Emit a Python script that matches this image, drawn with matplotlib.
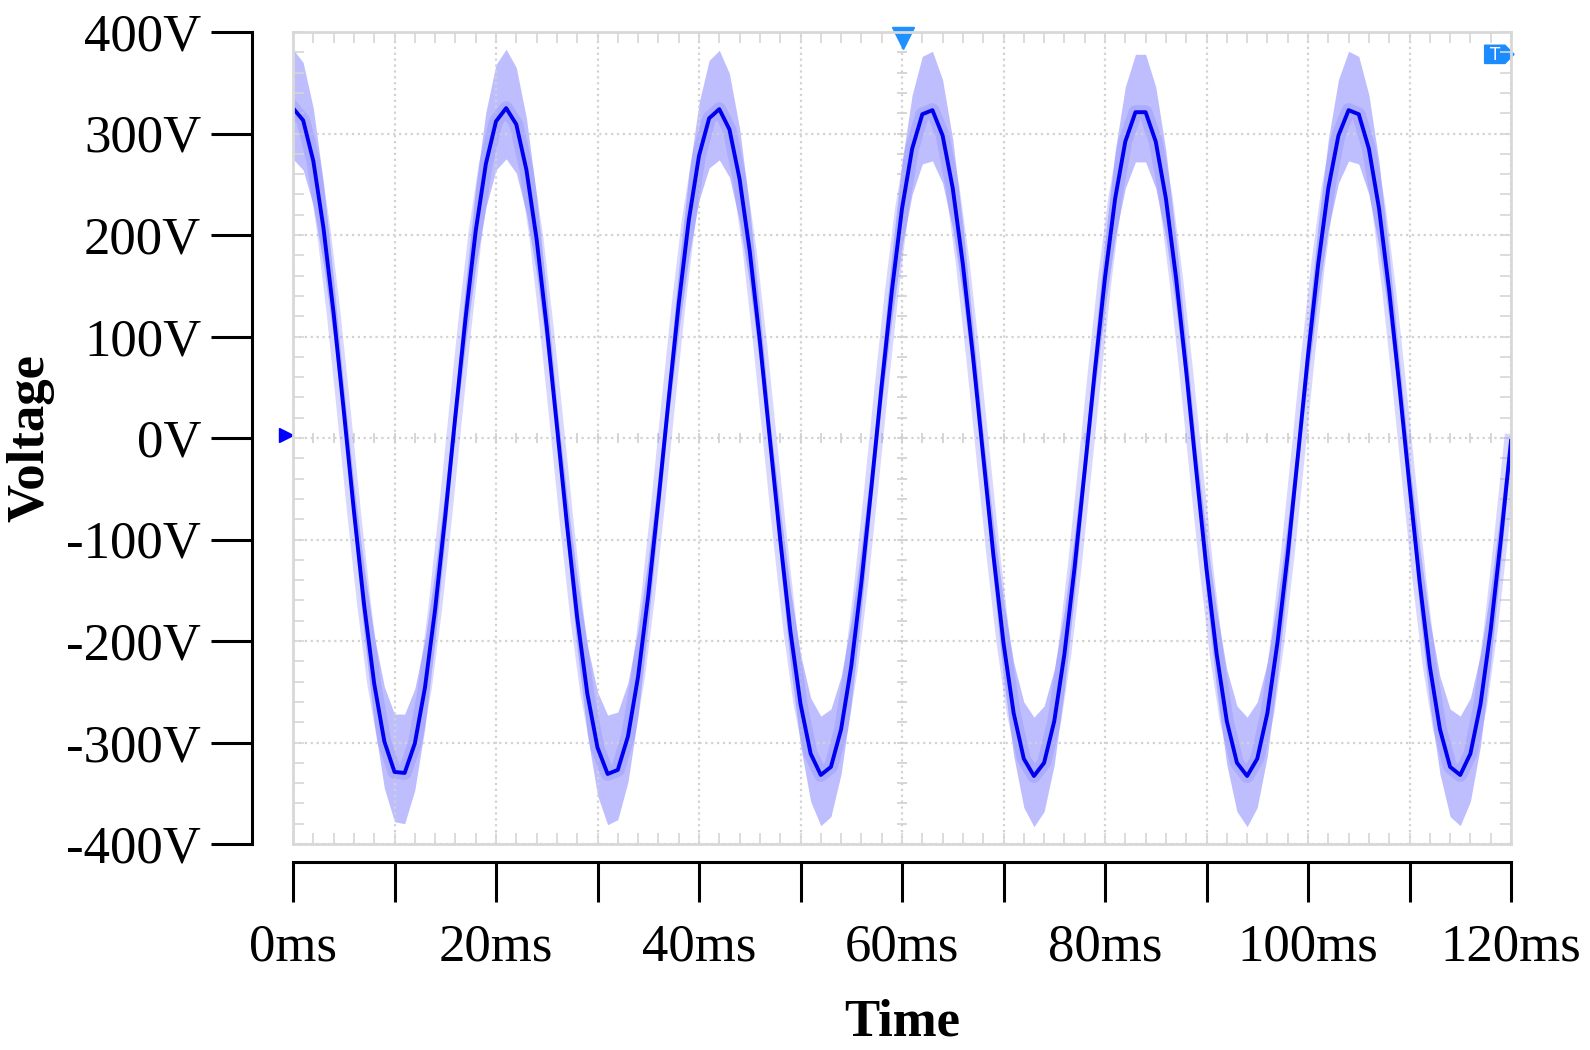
import numpy as np
import matplotlib.pyplot as plt
from matplotlib.patches import Polygon

plt.rcParams['font.family'] = ['Liberation Serif', 'DejaVu Serif']

# time axis, one reading per ms
t_ms = list(range(0, 121))

# trace (V)
voltage = [325, 313, 273, 207, 123, 27, -72, -164, -242, -299,
           -329, -330, -301, -246, -169, -77, 22, 118, 204, 270,
           312, 325, 309, 264, 196, 109, 12, -86, -177, -252,
           -305, -331, -327, -294, -235, -155, -62, 37, 132, 215,
           278, 315, 324, 304, 255, 184, 95, -3, -100, -190,
           -262, -311, -332, -324, -287, -225, -142, -47, 52, 145,
           226, 285, 319, 323, 298, 246, 171, 80, -18, -115,
           -202, -271, -316, -333, -320, -279, -213, -128, -32, 66,
           158, 236, 292, 321, 321, 292, 236, 158, 66, -33,
           -129, -213, -279, -320, -333, -316, -271, -201, -115, -18,
           81, 171, 246, 298, 323, 319, 285, 226, 145, 51,
           -47, -142, -225, -287, -324, -332, -311, -262, -189, -100,
           -3]

# noise envelope (upper / lower edge of the light band)
band_hi = [383, 370, 325, 251, 156, 49, -46, -127, -195, -245,
           -272, -272, -247, -199, -131, -50, 43, 151, 247, 321,
           368, 383, 365, 315, 238, 141, 32, -58, -138, -204,
           -250, -273, -270, -241, -189, -119, -37, 60, 167, 260,
           330, 372, 382, 359, 305, 225, 125, 15, -70, -149,
           -213, -256, -274, -267, -235, -180, -107, -24, 77, 181,
           272, 338, 376, 381, 353, 294, 210, 108, 2, -84,
           -160, -221, -260, -275, -264, -228, -170, -95, -11, 92,
           196, 283, 346, 378, 378, 346, 283, 196, 92, -12,
           -96, -170, -228, -264, -275, -260, -221, -159, -84, 2,
           109, 210, 294, 353, 381, 376, 338, 272, 181, 76,
           -24, -107, -180, -235, -267, -274, -256, -213, -148, -70,
           15]
band_lo = [275, 264, 229, 171, 98, 13, -90, -193, -281, -345,
           -378, -380, -347, -285, -199, -96, 9, 93, 169, 227,
           264, 275, 261, 221, 162, 85, 0, -106, -208, -292,
           -352, -381, -376, -339, -273, -183, -79, 22, 105, 178,
           234, 266, 274, 257, 213, 151, 73, -13, -122, -223,
           -303, -358, -382, -373, -331, -262, -169, -62, 35, 117,
           188, 240, 270, 273, 251, 206, 140, 60, -30, -138,
           -236, -313, -364, -383, -368, -322, -248, -153, -45, 48,
           128, 197, 246, 272, 272, 246, 197, 128, 48, -46,
           -154, -248, -322, -368, -383, -364, -313, -235, -138, -30,
           61, 140, 206, 251, 273, 270, 240, 188, 117, 34,
           -62, -169, -262, -331, -373, -382, -358, -303, -222, -122,
           -13]

y_ticks = [400, 300, 200, 100, 0, -100, -200, -300, -400]
y_labels = ['400V', '300V', '200V', '100V', '0V', '-100V', '-200V', '-300V', '-400V']
x_ticks = [0, 10, 20, 30, 40, 50, 60, 70, 80, 90, 100, 110, 120]
x_labels = ['0ms', '', '20ms', '', '40ms', '', '60ms', '', '80ms', '', '100ms', '', '120ms']

fig = plt.figure(figsize=(15.9, 10.5), dpi=100)
pos = [293 / 1590, 206 / 1050, 1218 / 1590, 812 / 1050]

# scope screen: grey frame, dotted grid, small inner ticks
scope = fig.add_axes(pos)
scope.set_xlim(0, 120)
scope.set_ylim(-400, 400)
scope.set_xticks(np.arange(0, 121, 10))
scope.set_xticks(np.arange(0, 121, 2), minor=True)
scope.set_yticks(np.arange(-400, 401, 100))
scope.set_yticks(np.arange(-400, 401, 20), minor=True)
scope.tick_params(which='both', direction='in', top=True, right=True, length=8, width=1.2,
                  color='#d6d6d6', labelbottom=False, labelleft=False)
scope.grid(True, which='major', linestyle=':', color='#d2d2d2', linewidth=1.6)
for s in scope.spines.values():
    s.set_color('#d8d8d8')
    s.set_linewidth(2)
scope.vlines(np.arange(0, 121, 2), -5, 5, color='#d0d0d0', lw=1.2)
scope.hlines(np.arange(-400, 401, 20), 59.5, 60.5, color='#d0d0d0', lw=1.2)

scope.fill_between(t_ms, band_lo, band_hi, color='#b3b3ff', lw=0, alpha=0.85)
scope.plot(t_ms, voltage, color='#8080ff', lw=10, alpha=0.3, solid_joinstyle='round')
scope.plot(t_ms, voltage, color='#0000f0', lw=2.8, solid_joinstyle='round')

# scope markers
scope.plot(-0.7, 3, marker='>', ms=10, color='#0000ff', clip_on=False)
scope.plot(60.1, 394, marker='v', ms=16, color='#1e90ff', clip_on=False)
scope.add_patch(Polygon([(117.4, 387), (119.4, 387), (120.3, 378), (119.4, 369), (117.4, 369)],
                        closed=True, color='#1a8cff', clip_on=False))
scope.text(118.4, 377.5, 'T', color='white', fontsize=12, family='DejaVu Sans',
           ha='center', va='center')

# black axes, pushed out from the screen
ax = fig.add_axes(pos, facecolor='none')
ax.set_xlim(0, 120)
ax.set_ylim(-400, 400)
ax.spines['top'].set_visible(False)
ax.spines['right'].set_visible(False)
ax.spines['left'].set_position(('outward', 29.5))
ax.spines['bottom'].set_position(('outward', 13))
ax.spines['left'].set_bounds(-400, 400)
ax.spines['bottom'].set_bounds(0, 120)
ax.spines['left'].set_linewidth(2.2)
ax.spines['bottom'].set_linewidth(2.2)
ax.set_xticks(x_ticks, x_labels)
ax.set_yticks(y_ticks, y_labels)
ax.tick_params(axis='x', direction='out', length=29, width=2.2, labelsize=38, pad=15)
ax.tick_params(axis='y', direction='out', length=29.5, width=2.2, labelsize=38, pad=7)

fig.text(30 / 1590, 1 - 438 / 1050, 'Voltage', rotation=90, ha='center', va='center',
         fontsize=38, fontweight='bold')
fig.text(902 / 1590, 1 - 1022 / 1050, 'Time', ha='center', va='center',
         fontsize=38, fontweight='bold')

fig.savefig('out.png', dpi=100)
